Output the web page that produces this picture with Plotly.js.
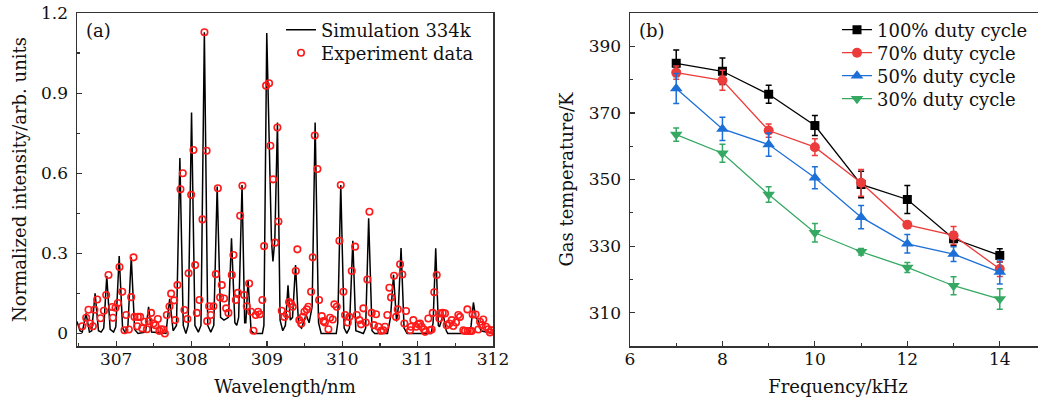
<!DOCTYPE html>
<html><head><meta charset="utf-8">
<script src="https://cdn.plot.ly/plotly-3.0.1.min.js"></script>
<style>html,body{margin:0;padding:0;overflow:hidden;background:#fff}#chart{width:1050px;height:405px}</style>
</head><body><div id="chart"></div>
<script>
// ---------- Panel (a): spectrum ----------
const simWavelength = [306.48,306.52,306.55,306.60,306.645,306.675,306.72,306.765,306.80,306.835,306.875,306.92,306.965,306.995,307.04,307.085,307.12,307.155,307.20,307.245,307.29,307.39,307.43,307.47,307.66,307.71,307.755,307.80,307.845,307.89,307.925,307.955,308.0,308.045,308.09,308.125,308.17,308.215,308.255,308.295,308.34,308.385,308.43,308.49,308.53,308.575,308.60,308.625,308.67,308.705,308.72,308.75,308.79,308.83,308.94,308.96,308.998,309.03,309.06,309.08,309.105,309.14,309.175,309.21,309.245,309.28,309.31,309.34,309.38,309.42,309.46,309.52,309.56,309.60,309.64,309.685,309.72,309.92,309.94,309.98,310.025,310.06,310.095,310.14,310.18,310.28,310.31,310.35,310.395,310.43,310.60,310.64,310.68,310.72,310.745,310.78,310.82,310.86,311.18,311.205,311.24,311.275,311.29,311.34,311.38,311.40,311.69,311.71,311.74,311.77,311.80,311.84,312.0];
const simIntensity = [0.045,0.01,0.005,0.075,0.005,0.01,0.15,0.01,0.005,0.02,0.215,0.015,0.005,0.025,0.29,0.02,0.003,0.025,0.285,0.015,0.0,0.005,0.10,0.005,0.0,0.13,0.01,0.03,0.657,0.03,0.0,0.03,0.827,0.03,0.005,0.03,1.128,0.03,0.005,0.03,0.55,0.06,0.05,0.06,0.356,0.04,0.03,0.06,0.556,0.04,0.04,0.20,0.01,0.0,0.0,0.03,1.125,0.74,0.35,0.27,0.35,0.79,0.05,0.01,0.03,0.18,0.05,0.06,0.256,0.03,0.02,0.07,0.04,0.1,0.79,0.04,0.0,0.0,0.04,0.556,0.02,0.0,0.02,0.347,0.01,0.0,0.02,0.431,0.01,0.0,0.0,0.06,0.22,0.045,0.1,0.32,0.02,0.0,0.0,0.04,0.319,0.03,0.025,0.07,0.01,0.0,0.0,0.03,0.116,0.06,0.05,0.01,0.0];

const expWavelength = [306.55,306.602,306.633,306.655,306.691,306.712,306.748,306.792,306.837,306.867,306.898,306.947,306.956,306.991,307.023,307.044,307.08,307.11,307.133,307.168,307.199,307.23,307.243,307.278,307.288,307.318,307.345,307.376,307.407,307.433,307.463,307.495,307.521,307.553,307.574,307.597,307.628,307.646,307.672,307.707,307.729,307.77,307.782,307.813,307.853,307.884,307.906,307.944,307.96,307.995,308.025,308.048,308.07,308.105,308.145,308.171,308.20,308.207,308.233,308.255,308.29,308.322,308.349,308.379,308.401,308.432,308.459,308.489,308.534,308.556,308.587,308.614,308.645,308.675,308.698,308.733,308.764,308.79,308.821,308.852,308.883,308.906,308.94,308.963,308.989,309.029,309.046,309.082,309.109,309.139,309.153,309.197,309.232,309.264,309.294,309.321,309.343,309.383,309.404,309.43,309.457,309.476,309.498,309.53,309.55,309.586,309.608,309.635,309.67,309.692,309.728,309.75,309.77,309.816,309.838,309.874,309.895,309.927,309.962,309.98,310.015,310.037,310.073,310.094,310.126,310.17,310.192,310.227,310.25,310.28,310.312,310.333,310.36,310.39,310.42,310.448,310.479,310.515,310.545,310.568,310.598,310.625,310.647,310.687,310.714,310.736,310.767,310.797,310.824,310.846,310.9,310.912,310.943,310.979,311.01,311.032,311.054,311.085,311.098,311.142,311.164,311.186,311.2,311.221,311.253,311.288,311.297,311.333,311.363,311.385,311.42,311.452,311.473,311.509,311.54,311.562,311.606,311.629,311.66,311.664,311.695,311.717,311.73,311.77,311.805,311.828,311.85,311.871,311.907,311.938,311.96,311.98];
const expIntensity = [0.027,0.059,0.089,0.037,0.027,0.089,0.127,0.057,0.085,0.144,0.219,0.099,0.059,0.096,0.114,0.249,0.156,0.012,0.069,0.015,0.136,0.285,0.062,0.027,0.062,0.062,0.019,0.044,0.016,0.046,0.077,0.037,0.031,0.054,0.009,0.016,0.015,0.0,0.069,0.101,0.149,0.124,0.05,0.181,0.54,0.60,0.088,0.054,0.225,0.519,0.687,0.256,0.077,0.125,0.427,1.128,0.684,0.046,0.102,0.069,0.102,0.222,0.544,0.135,0.181,0.131,0.094,0.077,0.219,0.294,0.125,0.152,0.441,0.553,0.144,0.102,0.187,0.081,0.01,0.069,0.081,0.072,0.125,0.327,0.928,0.937,0.703,0.577,0.34,0.771,0.419,0.085,0.062,0.072,0.118,0.11,0.1,0.234,0.315,0.05,0.037,0.062,0.081,0.09,0.1,0.156,0.285,0.741,0.616,0.125,0.065,0.046,0.041,0.016,0.059,0.052,0.109,0.1,0.347,0.556,0.156,0.069,0.041,0.062,0.234,0.325,0.069,0.05,0.034,0.094,0.041,0.202,0.456,0.077,0.031,0.072,0.025,0.01,0.012,0.025,0.069,0.171,0.135,0.216,0.062,0.09,0.259,0.221,0.037,0.084,0.012,0.025,0.05,0.025,0.034,0.037,0.025,0.015,0.006,0.056,0.012,0.015,0.077,0.154,0.219,0.056,0.075,0.077,0.075,0.031,0.037,0.05,0.028,0.041,0.069,0.062,0.012,0.009,0.09,0.009,0.009,0.009,0.071,0.071,0.015,0.044,0.031,0.052,0.025,0.016,0.004,0.012];

// ---------- Panel (b): gas temperature ----------
const frequency = [7, 8, 9, 10, 11, 12, 13, 14];
const temp100 = [384.9, 382.5, 375.6, 366.2, 348.5, 344.0, 332.2, 327.2];
const err100  = [4.0, 4.0, 2.7, 3.0, 4.0, 4.2, 2.0, 2.0];
const temp70  = [382.1, 379.8, 364.7, 359.7, 349.0, 336.4, 333.2, 323.1];
const err70   = [2.0, 3.0, 2.0, 2.5, 4.0, 1.0, 2.7, 2.2];
const temp50  = [377.3, 365.2, 360.5, 350.5, 338.7, 330.7, 327.6, 322.2];
const err50   = [4.5, 3.5, 3.5, 3.3, 3.5, 2.8, 2.2, 3.6];
const temp30  = [363.5, 357.9, 345.5, 334.0, 328.3, 323.6, 318.1, 314.1];
const err30   = [2.0, 2.7, 2.3, 2.8, 1.0, 1.5, 2.7, 3.1];

const seriesNames = ['100% duty cycle', '70% duty cycle', '50% duty cycle', '30% duty cycle'];
const traceNames = ['Simulation 334k', 'Experiment data'];

const W = 1050, H = 405;
const FONT = 'DejaVu Serif';
const px = v => v / W, py = v => 1 - v / H;

const traces = [
  {x: simWavelength, y: simIntensity, name: traceNames[0], type: 'scatter', mode: 'lines',
   line: {color: '#000', width: 1.5}, xaxis: 'x', yaxis: 'y', legend: 'legend'},
  {x: expWavelength, y: expIntensity, name: traceNames[1], type: 'scatter', mode: 'markers',
   marker: {symbol: 'circle-open', color: '#ff1a1a', size: 6.5, line: {width: 1.6, color: '#ff1a1a'}},
   xaxis: 'x', yaxis: 'y', legend: 'legend2'}
];

const specs = [
  {y: temp100, e: err100, color: '#000000', symbol: 'square', size: 9},
  {y: temp70,  e: err70,  color: '#ec3b3b', symbol: 'circle', size: 10},
  {y: temp50,  e: err50,  color: '#1c6fd6', symbol: 'triangle-up', size: 11},
  {y: temp30,  e: err30,  color: '#35a862', symbol: 'triangle-down', size: 11}
];
specs.forEach((s, i) => {
  traces.push({
    x: frequency, y: s.y, name: seriesNames[i], type: 'scatter', mode: 'lines+markers',
    line: {color: s.color, width: 1.3},
    marker: {symbol: s.symbol, color: s.color, size: s.size},
    error_y: {type: 'data', array: s.e, visible: true, color: s.color, thickness: 1.5, width: 3},
    xaxis: 'x2', yaxis: 'y2', legend: 'legend' + (i + 3)
  });
});

const axBase = {
  showline: true, linecolor: '#333', linewidth: 1.5, mirror: true,
  ticks: 'inside', ticklen: 5, tickwidth: 1.2, tickcolor: '#333',
  showgrid: false, zeroline: false,
  tickfont: {family: FONT, size: 17, color: '#111'}
};
const titleFont = {family: FONT, size: 18, color: '#111'};

function legendAt(xPix, yPix) {
  return {x: px(xPix), y: py(yPix), xanchor: 'left', yanchor: 'middle', bgcolor: 'rgba(0,0,0,0)',
    font: {family: FONT, size: 18, color: '#111'}, tracegroupgap: 0, itemwidth: 30};
}

const layout = {
  width: W, height: H,
  margin: {l: 0, r: 0, t: 0, b: 0},
  paper_bgcolor: '#fff', plot_bgcolor: '#fff',
  showlegend: true,
  xaxis: Object.assign({}, axBase, {
    domain: [px(77), px(493)], range: [306.48, 312], tick0: 307, dtick: 1, ticklabelstandoff: -3,
    minor: {ticks: 'inside', ticklen: 3, dtick: 0.5, tick0: 306.5, tickcolor: '#333'},
    title: {text: 'Wavelength/nm', font: titleFont, standoff: 12}, anchor: 'y'
  }),
  yaxis: Object.assign({}, axBase, {
    domain: [1 - 346 / H, 1 - 13 / H], range: [-0.047, 1.2], tick0: 0, dtick: 0.3, ticklabelstandoff: 4,
    minor: {ticks: 'inside', ticklen: 3, dtick: 0.15, tick0: 0, tickcolor: '#333'},
    title: {text: 'Normalized intensity/arb. units', font: titleFont, standoff: 10}, anchor: 'x'
  }),
  xaxis2: Object.assign({}, axBase, {
    domain: [px(630), px(1046)], range: [6, 15], tick0: 6, dtick: 2, ticklabelstandoff: -3,
    minor: {ticks: 'inside', ticklen: 3, dtick: 1, tick0: 6, tickcolor: '#333'},
    title: {text: 'Frequency/kHz', font: titleFont, standoff: 12}, anchor: 'y2'
  }),
  yaxis2: Object.assign({}, axBase, {
    domain: [1 - 346 / H, 1 - 13 / H], range: [300, 400], tick0: 310, dtick: 20, ticklabelstandoff: 4,
    minor: {ticks: 'inside', ticklen: 3, dtick: 10, tick0: 300, tickcolor: '#333'},
    title: {text: 'Gas temperature/K', font: titleFont, standoff: 10}, anchor: 'x2'
  }),
  legend: legendAt(281, 30),
  legend2: legendAt(281, 53),
  legend3: legendAt(837, 30),
  legend4: legendAt(837, 53),
  legend5: legendAt(837, 76),
  legend6: legendAt(837, 99),
  annotations: [
    {text: '(a)', x: px(84), y: py(30), xref: 'paper', yref: 'paper', xanchor: 'left', yanchor: 'middle',
     showarrow: false, font: {family: FONT, size: 18, color: '#111'}},
    {text: '(b)', x: px(637), y: py(30), xref: 'paper', yref: 'paper', xanchor: 'left', yanchor: 'middle',
     showarrow: false, font: {family: FONT, size: 18, color: '#111'}}
  ]
};

Plotly.newPlot('chart', traces, layout, {displayModeBar: false, responsive: false, staticPlot: true});
</script></body></html>
